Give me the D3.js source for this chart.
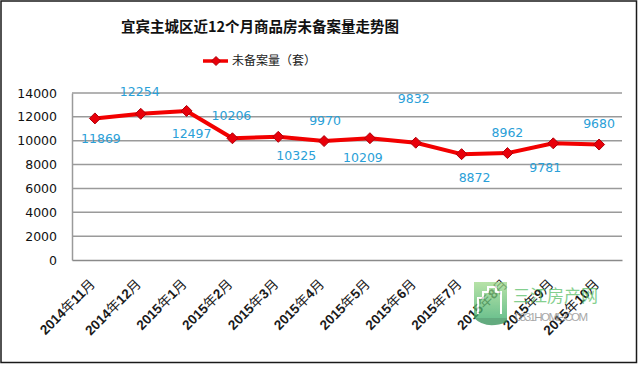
<!DOCTYPE html>
<html>
<head>
<meta charset="utf-8">
<script src="https://cdn.jsdelivr.net/npm/d3@7"></script>
<style>
  html, body { margin: 0; padding: 0; background: #fff; }
  svg { display: block; }
</style>
</head>
<body>
<svg id="chart" width="640" height="365"></svg>
<script>
// ---- data ----
const title = "宜宾主城区近12个月商品房未备案量走势图";
const seriesName = "未备案量（套）";
const months = ["2014年11月","2014年12月","2015年1月","2015年2月","2015年3月","2015年4月",
                "2015年5月","2015年6月","2015年7月","2015年8月","2015年9月","2015年10月"];
const unsold = [11869, 12254, 12497, 10206, 10325, 9970, 10209, 9832, 8872, 8962, 9781, 9680];
const yTicks = [0, 2000, 4000, 6000, 8000, 10000, 12000, 14000];

// ---- layout ----
const svg = d3.select("#chart");
const W = 640, H = 365;
const plot = { left: 72, right: 622, top: 93, bottom: 260 };
const centerX = 260;
const cjk = "'Noto Sans CJK SC', 'Noto Sans', sans-serif";

// manual label offsets (as placed in the original chart)
const labelOffsets = [[6,20],[-1,-22],[5,23],[-1,-23],[18,19],[1,-21],[-7,19],[-2,-44],[13,23],[0,-21],[-8,24],[0,-21]];

svg.append("rect").attr("x", 0).attr("y", 0).attr("width", W).attr("height", H).attr("fill", "#fff");
svg.append("rect").attr("x", 1).attr("y", 1).attr("width", 635.5).attr("height", 361.5)
  .attr("fill", "none").attr("stroke", "#1a1a1a").attr("stroke-width", 1.5);

const x = d3.scaleBand().domain(months).range([plot.left, plot.right]);
const y = d3.scaleLinear().domain([0, 14000]).range([plot.bottom, plot.top]);

// grid lines
svg.append("g").selectAll("line").data(yTicks.filter(d => d > 0)).join("line")
  .attr("x1", plot.left).attr("x2", plot.right)
  .attr("y1", d => y(d)).attr("y2", d => y(d))
  .attr("stroke", "#9a9a9a").attr("stroke-width", 1.5);

// y axis
const yAxis = svg.append("g").attr("transform", `translate(${plot.left},0)`)
  .call(d3.axisLeft(y).tickValues(yTicks).tickSize(0).tickPadding(15).tickFormat(d3.format("d")));
yAxis.select(".domain").attr("stroke", "#9a9a9a").attr("stroke-width", 1.5);
yAxis.selectAll("text").attr("font-family", "'DejaVu Sans', sans-serif").attr("font-size", 12.5)
  .attr("fill", "#111");

// x axis
const xAxis = svg.append("g").attr("transform", `translate(0,${plot.bottom})`)
  .call(d3.axisBottom(x).tickSize(0).tickFormat(""));
xAxis.select(".domain").attr("stroke", "#8a8a8a").attr("stroke-width", 1.5);
xAxis.selectAll(".tick text").remove();
const xl = svg.append("g").selectAll("text").data(months).join("text")
  .attr("transform", d => `translate(${x(d) + x.bandwidth() / 2 + 1},${plot.bottom + 25}) rotate(-45)`)
  .attr("text-anchor", "end")
  .attr("font-family", "'Liberation Sans', " + cjk)
  .attr("font-size", 14).attr("fill", "#1a1a1a");
xl.each(function(d) {
  const parts = d.match(/\d+|\D+/g);
  const t = d3.select(this);
  parts.forEach(p => {
    t.append("tspan").attr("font-weight", /\d/.test(p) ? "bold" : "normal")
      .attr("font-family", /\d/.test(p) ? "'Liberation Sans', sans-serif" : cjk)
      .attr("font-size", /\d/.test(p) ? 13.5 : 13.5)
      .text(p);
  });
});

// line
const cx = (d, i) => x(months[i]) + x.bandwidth() / 2;
svg.append("path").datum(unsold)
  .attr("d", d3.line().x((d, i) => cx(d, i)).y(d => y(d)))
  .attr("fill", "none").attr("stroke", "#f20000").attr("stroke-width", 4)
  .attr("stroke-linejoin", "round");

const r = 5.5;
const diamond = `M0,${-r}L${r},0L0,${r}L${-r},0Z`;
svg.append("g").selectAll("path").data(unsold).join("path")
  .attr("transform", (d, i) => `translate(${cx(d, i)},${y(d)})`)
  .attr("d", diamond).attr("fill", "#e8000a").attr("stroke", "#b0000a").attr("stroke-width", 1);

// data labels
svg.append("g").selectAll("text").data(unsold).join("text")
  .attr("x", (d, i) => cx(d, i) + labelOffsets[i][0])
  .attr("y", (d, i) => y(d) + labelOffsets[i][1])
  .attr("dy", "0.36em").attr("text-anchor", "middle")
  .attr("font-family", "'DejaVu Sans', sans-serif").attr("font-size", 12.5)
  .attr("fill", "#2aa0d8")
  .text(d => d);

// title
svg.append("text").attr("x", centerX).attr("y", 27).attr("dy", "0.36em")
  .attr("text-anchor", "middle").attr("font-family", cjk).attr("font-weight", "bold")
  .attr("font-size", 14.5).attr("fill", "#111").text(title);

// legend
const lg = svg.append("g");
lg.append("line").attr("x1", 203).attr("x2", 228).attr("y1", 61).attr("y2", 61)
  .attr("stroke", "#f20000").attr("stroke-width", 3.5);
lg.append("path").attr("transform", "translate(216,61)").attr("d", `M0,-4.5L4.5,0L0,4.5L-4.5,0Z`)
  .attr("fill", "#e8000a").attr("stroke", "#b0000a").attr("stroke-width", 1);
lg.append("text").attr("x", 232).attr("y", 61).attr("dy", "0.36em")
  .attr("font-family", cjk).attr("font-size", 12).attr("fill", "#1a1a1a").text(seriesName);

// watermark
const wm = svg.append("g").attr("opacity", 0.75);
const grad = svg.append("defs").append("linearGradient").attr("id", "wmg")
  .attr("x1", 0).attr("y1", 0).attr("x2", 0).attr("y2", 1);
grad.append("stop").attr("offset", 0).attr("stop-color", "#9fd98a");
grad.append("stop").attr("offset", 1).attr("stop-color", "#3fae6a");
wm.append("rect").attr("x", 474).attr("y", 282).attr("width", 33).attr("height", 36).attr("fill", "url(#wmg)");
wm.append("path").attr("d", "M478,314 L478,298 L483,298 L483,292 L488,292 L488,287 L496,287 L496,292 L501,292 L501,314")
  .attr("fill", "none").attr("stroke", "#fff").attr("stroke-width", 2);
wm.append("path").attr("d", "M474,318 Q486,330 507,322 L507,318 Z").attr("fill", "#2f8f55");
wm.append("text").attr("x", 513).attr("y", 296).attr("dy", "0.36em")
  .attr("font-family", cjk).attr("font-size", 17).attr("fill", "#5cbf6a").text("三江房产网");
wm.append("text").attr("x", 515).attr("y", 317).attr("dy", "0.36em")
  .attr("font-family", "'Liberation Sans Narrow', 'Liberation Sans', sans-serif")
  .attr("font-size", 11.5).attr("fill", "#8a8a8a").attr("textLength", 73).text("0831HOME.COM");
</script>
</body>
</html>
